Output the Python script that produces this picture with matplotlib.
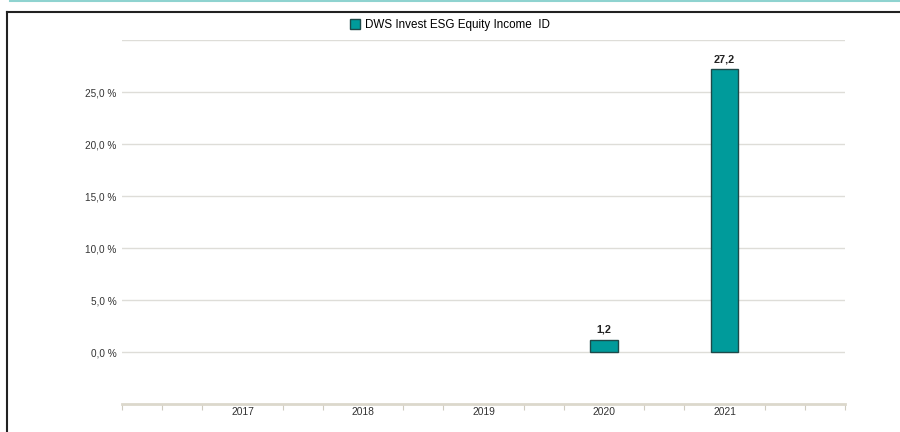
import numpy as np
import matplotlib.pyplot as plt
from matplotlib.lines import Line2D
from matplotlib.patches import Patch

plt.rcParams['font.family'] = ['Liberation Sans', 'DejaVu Sans']

# Data
years = ['2017', '2018', '2019', '2020', '2021']
returns = [np.nan, np.nan, np.nan, 1.2, 27.2]
series_name = 'DWS Invest ESG Equity Income  ID'
y_ticks = [0, 5, 10, 15, 20, 25]

bar_color = '#009b9b'
edge_color = '#1d4a4a'
grid_color = '#deddd8'
axis_color = '#dcd8cc'

W, H = 900, 432
fig = plt.figure(figsize=(W / 100, H / 100), dpi=100)
ax = fig.add_axes([122 / W, 1 - 404 / H, (845 - 122) / W, (404 - 40) / H])

x = np.arange(len(years))
vals = np.array(returns, dtype=float)
ax.bar(x, vals, width=0.23, color=bar_color, edgecolor=edge_color, linewidth=1, zorder=3)
for xi, v in zip(x, vals):
    if not np.isnan(v):
        ax.text(xi, v + 0.45, f'{v:.1f}'.replace('.', ','), ha='center', va='bottom',
                fontsize=7.8, fontweight='bold', color='#222222', zorder=4)

ax.set_xlim(-1, 5)
ax.set_ylim(-5, 30)

# horizontal grid lines
for g in [0, 5, 10, 15, 20, 25, 30]:
    ax.axhline(g, color=grid_color, linewidth=1, zorder=1)

ax.set_yticks(y_ticks)
ax.set_yticklabels([f'{t:.1f}'.replace('.', ',') + ' %' for t in y_ticks])
ax.tick_params(axis='y', length=0, labelsize=7.2, labelcolor='#333333', pad=4)

ax.set_xticks(x)
ax.set_xticklabels(years)
ax.tick_params(axis='x', length=0, labelsize=7.4, labelcolor='#333333', pad=2)
minor = [k / 3 for k in range(-3, 16) if k % 3 != 0 or k in (-3, 15)]
ax.set_xticks(minor, minor=True)
ax.tick_params(axis='x', which='minor', length=4, width=0.8, color='#cfcbc0', direction='out')

for s in ['top', 'right', 'left']:
    ax.spines[s].set_visible(False)
ax.spines['bottom'].set_color(axis_color)
ax.spines['bottom'].set_linewidth(2)

# legend
fig.legend(handles=[Patch(facecolor=bar_color, edgecolor=edge_color, linewidth=1)],
           labels=[series_name], loc='center', bbox_to_anchor=(0.5, 1 - 25 / H),
           frameon=False, fontsize=8.4, handlelength=0.85, handleheight=0.85,
           handletextpad=0.4)

# page decorations: teal rule and frame
fig.add_artist(Line2D([10 / W, 1], [1 - 0.7 / H, 1 - 0.7 / H], color='#8fd3d0', linewidth=1.5))
fig.add_artist(Line2D([7 / W, 1], [1 - 12 / H, 1 - 12 / H], color='#222222', linewidth=1.5))
fig.add_artist(Line2D([7 / W, 7 / W], [0, 1 - 12 / H], color='#222222', linewidth=1.5))

fig.savefig('out.png', dpi=100)
